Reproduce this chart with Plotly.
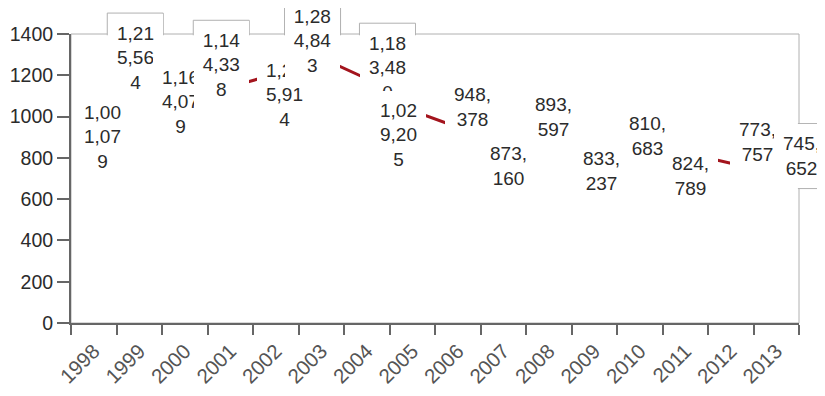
import plotly.graph_objects as go

years = ["1998", "1999", "2000", "2001", "2002", "2003", "2004", "2005",
         "2006", "2007", "2008", "2009", "2010", "2011", "2012", "2013"]
values = [1001079, 1215564, 1164079, 1144338, 1205914, 1284843, 1183480, 1029205,
          948378, 873160, 893597, 833237, 810683, 824789, 773757, 745652]
y_ticks = [0, 200, 400, 600, 800, 1000, 1200, 1400]

# label placement offsets in pixels (right, down) relative to each point
label_dx = [8.5, -4, -4.6, -9, 8.4, -8.7, 20.7, -13.5, 15, 5.5, 5, 7.5, 8, 5, 27, 25]
label_dy = [21, -14.5, 19, -22, 20.5, -16.6, -11, 24, -20, 23, -21.5, 20, -19.4, 23.5, -21, -13]

Y_MAX = 1400
y_vals = [v / 1000 for v in values]


def wrap(v, n=4):
    s = f"{v:,}"
    return [s[i:i + n] for i in range(0, len(s), n)]


LINE_H = 24
PAD = 8
BOX_W = 55
FONT = "Liberation Sans, Arial, sans-serif"

fig = go.Figure()
fig.add_trace(go.Scatter(x=years, y=y_vals, mode="lines",
                         line=dict(color="#a3141d", width=3),
                         hoverinfo="skip", showlegend=False))

shapes = []
# plot-area outline
shapes.append(dict(type="rect", xref="x domain", yref="y domain", x0=0, x1=1, y0=0, y1=1,
                   line=dict(color="#b0b0b0", width=1), fillcolor="rgba(0,0,0,0)", layer="below"))
annotations = []
nc = len(years)
for i, (yr, v, yv) in enumerate(zip(years, values, y_vals)):
    lines = wrap(v)
    n = len(lines)
    hh = (n * LINE_H) / 2 + PAD
    dx, dy = label_dx[i], label_dy[i]
    shapes.append(dict(type="rect", xref="x domain", yref="y domain",
                       xsizemode="pixel", ysizemode="pixel",
                       xanchor=(i + 0.5) / nc, yanchor=yv / Y_MAX,
                       x0=dx - BOX_W / 2 - 0.5, x1=dx + BOX_W / 2 + 0.5,
                       y0=-dy - hh - 0.5, y1=-dy + hh + 0.5,
                       line=dict(color="#b0b0b0", width=1), fillcolor="white", layer="below"))
    annotations.append(dict(x=i, y=yv, xref="x", yref="y", xshift=dx, yshift=-dy,
                            text="<br>".join(lines), showarrow=False,
                            xanchor="center", yanchor="middle", align="center", valign="middle",
                            width=BOX_W - 2 * PAD, height=n * LINE_H,
                            bgcolor="white", borderpad=PAD, borderwidth=0,
                            font=dict(family=FONT, size=19, color="#2b2b2b")))
# interior fill hiding label borders inside the plot area
shapes.append(dict(type="rect", xref="x domain", yref="y domain", x0=0.0015, x1=0.9985, y0=0.004, y1=0.996,
                   line=dict(width=0), fillcolor="white", layer="below"))

fig.update_layout(
    width=817, height=388,
    margin=dict(l=63, r=26, t=26, b=73),
    paper_bgcolor="white", plot_bgcolor="white",
    showlegend=False,
    shapes=shapes, annotations=annotations,
    font=dict(family=FONT),
    xaxis=dict(type="category", categoryorder="array", categoryarray=years,
               range=[-0.5, len(years) - 0.5], tickson="boundaries", automargin=False,
               ticks="outside", ticklen=10, tickwidth=2, tickcolor="#666666",
               showline=True, linecolor="#666666", linewidth=2, showgrid=False,
               tickangle=-45, tickfont=dict(size=20.5, color="#555555"),
               ticklabelstandoff=6),
    yaxis=dict(range=[0, Y_MAX], tickvals=y_ticks, ticktext=[str(t) for t in y_ticks],
               automargin=False,
               ticks="outside", ticklen=12, tickwidth=2, tickcolor="#666666",
               showline=True, linecolor="#666666", linewidth=2, showgrid=False, zeroline=False,
               tickfont=dict(size=19.5, color="#2b2b2b")),
)
fig.write_html("out.html")
